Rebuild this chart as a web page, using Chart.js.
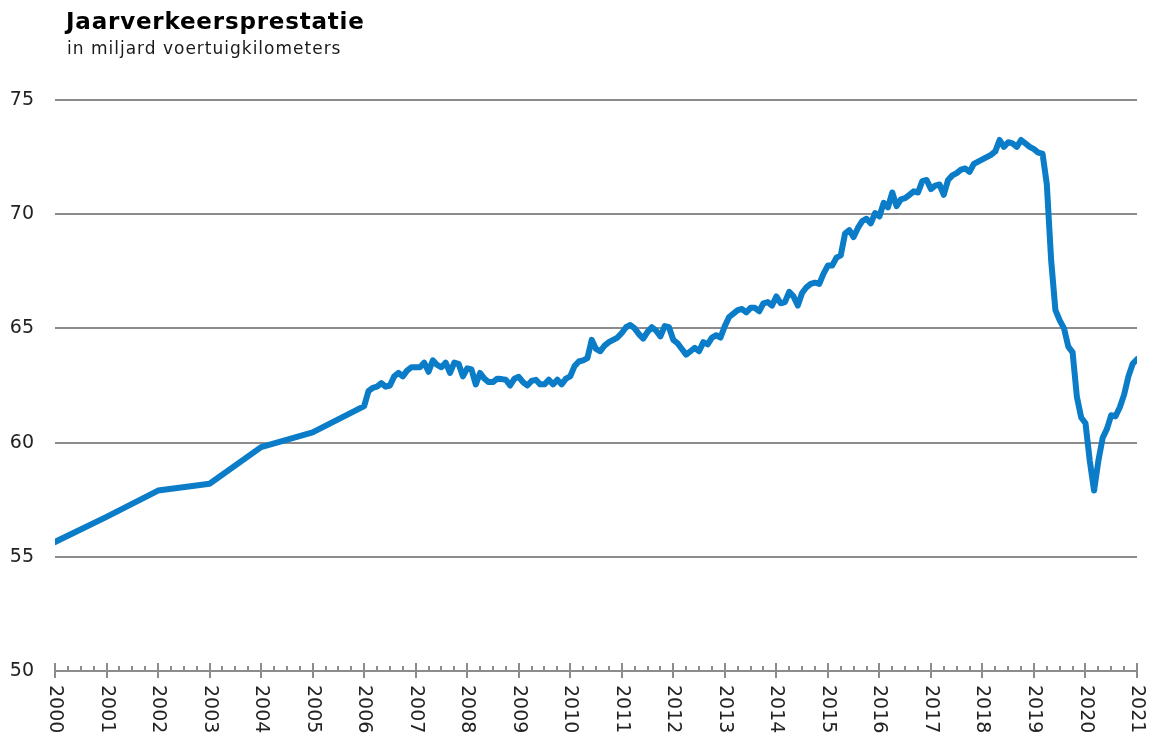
<!DOCTYPE html>
<html>
<head>
<meta charset="utf-8">
<script src="https://cdn.jsdelivr.net/npm/chart.js"></script>
<style>
    html, body { margin: 0; padding: 0; background: #fff; }
    #wrap { position: relative; width: 1154px; height: 734px; overflow: hidden; }
    #title { position: absolute; left: 66px; top: 8px; font: bold 23px "DejaVu Sans", Verdana, sans-serif; letter-spacing: 0.8px; color: #000; }
    #sub { position: absolute; left: 67px; top: 38px; font: 17px "DejaVu Sans", Verdana, sans-serif; letter-spacing: 1px; color: #1a1a1a; }
    canvas { position: absolute; left: 0; top: 0; }
</style>
</head>
<body>
<div id="wrap">
    <canvas id="chart" width="1154" height="734"></canvas>
    <div id="title">Jaarverkeersprestatie</div>
    <div id="sub">in miljard voertuigkilometers</div>
</div>
<script>
// jaarcijfers 2000-2005
const annualYears = [2000, 2001, 2002, 2003, 2004, 2005];
const annualValues = [55.65, 56.75, 57.9, 58.2, 59.8, 60.45];

// maandcijfers (voortschrijdend jaar) vanaf januari 2006
const monthlyStart = 2006;
const monthlyValues = [
    61.6, 62.25, 62.4, 62.45, 62.6, 62.45, 62.5, 62.9, 63.05, 62.9, 63.15, 63.3,     // 2006
    63.3, 63.3, 63.5, 63.1, 63.6, 63.4, 63.3, 63.5, 63.05, 63.5, 63.45, 62.9,        // 2007
    63.25, 63.2, 62.55, 63.05, 62.8, 62.65, 62.65, 62.8, 62.78, 62.75, 62.5, 62.8,   // 2008
    62.88, 62.65, 62.5, 62.7, 62.75, 62.55, 62.55, 62.75, 62.55, 62.75, 62.55, 62.8, // 2009
    62.9, 63.35, 63.55, 63.6, 63.7, 64.5, 64.1, 64.0, 64.25, 64.4, 64.5, 64.6,       // 2010
    64.8, 65.05, 65.15, 65.0, 64.75, 64.55, 64.85, 65.05, 64.9, 64.65, 65.1, 65.05,  // 2011
    64.5, 64.35, 64.1, 63.85, 64.0, 64.15, 64.0, 64.4, 64.3, 64.6, 64.7, 64.6,       // 2012
    65.1, 65.5, 65.65, 65.8, 65.85, 65.7, 65.9, 65.9, 65.75, 66.1, 66.15, 66.0,      // 2013
    66.4, 66.1, 66.15, 66.6, 66.4, 66.0, 66.55, 66.8, 66.95, 67.0, 66.95, 67.4,      // 2014
    67.75, 67.75, 68.1, 68.2, 69.15, 69.3, 69.0, 69.4, 69.7, 69.8, 69.6, 70.05,      // 2015
    69.9, 70.5, 70.3, 70.95, 70.35, 70.65, 70.7, 70.85, 71.0, 70.95, 71.45, 71.5,    // 2016
    71.1, 71.25, 71.3, 70.85, 71.5, 71.7, 71.8, 71.95, 72.0, 71.85, 72.2, 72.3,      // 2017
    72.4, 72.5, 72.6, 72.75, 73.25, 72.95, 73.15, 73.1, 72.95, 73.25, 73.1, 72.95,   // 2018
    72.85, 72.7, 72.65, 71.3, 68.0, 65.8, 65.35, 65.0, 64.2, 63.95, 62.0, 61.1,      // 2019
    60.85, 59.2, 57.9, 59.2, 60.2, 60.6, 61.2, 61.15, 61.55, 62.1, 62.9, 63.45,      // 2020
    63.65                                                                              // 2021
];

const yearLabels = ['2000', '2001', '2002', '2003', '2004', '2005', '2006', '2007', '2008', '2009', '2010',
    '2011', '2012', '2013', '2014', '2015', '2016', '2017', '2018', '2019', '2020', '2021'];
const yMin = 50, yMax = 75, yStep = 5;

const points = annualYears.map((yr, i) => ({ x: yr, y: annualValues[i] }))
    .concat(monthlyValues.map((v, i) => ({ x: monthlyStart + i / 12, y: v })));

const axisColor = '#8c8c8c';

// x-as: jaartikken, kwartaaltikken en gedraaide jaartallen
const xAxisPlugin = {
    id: 'xAxisMarks',
    afterDraw(chart) {
        const { ctx, scales: { x, y } } = chart;
        const base = y.getPixelForValue(yMin);
        ctx.save();
        ctx.strokeStyle = axisColor;
        ctx.lineWidth = 2;
        const first = Number(yearLabels[0]);
        const last = Number(yearLabels[yearLabels.length - 1]);
        for (let q = 0; q <= (last - first) * 4; q++) {
            const px = Math.round(x.getPixelForValue(first + q / 4));
            const major = q % 4 === 0;
            ctx.beginPath();
            ctx.moveTo(px, major ? base - 8 : base - 5);
            ctx.lineTo(px, major ? base + 7 : base);
            ctx.stroke();
        }
        ctx.fillStyle = '#222';
        ctx.font = '19px "DejaVu Sans", Verdana, sans-serif';
        ctx.textAlign = 'left';
        ctx.textBaseline = 'middle';
        yearLabels.forEach(lbl => {
            const px = x.getPixelForValue(Number(lbl));
            ctx.save();
            ctx.translate(px, base + 14);
            ctx.rotate(Math.PI / 2);
            ctx.fillText(lbl, 0, 0);
            ctx.restore();
        });
        ctx.restore();
    }
};

new Chart(document.getElementById('chart'), {
    type: 'line',
    data: {
        datasets: [{
            data: points,
            borderColor: '#0a7cc8',
            borderWidth: 6,
            borderJoinStyle: 'round',
            borderCapStyle: 'round',
            pointRadius: 0,
            tension: 0,
            fill: false
        }]
    },
    options: {
        responsive: false,
        animation: false,
        layout: { padding: { left: 0, right: 17, top: 100, bottom: 0 } },
        plugins: {
            legend: { display: false },
            tooltip: { enabled: false }
        },
        scales: {
            x: {
                type: 'linear',
                min: Number(yearLabels[0]),
                max: Number(yearLabels[yearLabels.length - 1]),
                grid: { display: false },
                border: { display: false },
                ticks: { display: false },
                afterFit: s => { s.height = 63; }
            },
            y: {
                min: yMin,
                max: yMax,
                ticks: {
                    stepSize: yStep,
                    color: '#222',
                    font: { family: '"DejaVu Sans", Verdana, sans-serif', size: 19 },
                    padding: 21
                },
                grid: { color: axisColor, lineWidth: 2, drawTicks: false },
                border: { display: false },
                afterFit: s => { s.width = 55; }
            }
        }
    },
    plugins: [xAxisPlugin]
});
</script>
</body>
</html>
